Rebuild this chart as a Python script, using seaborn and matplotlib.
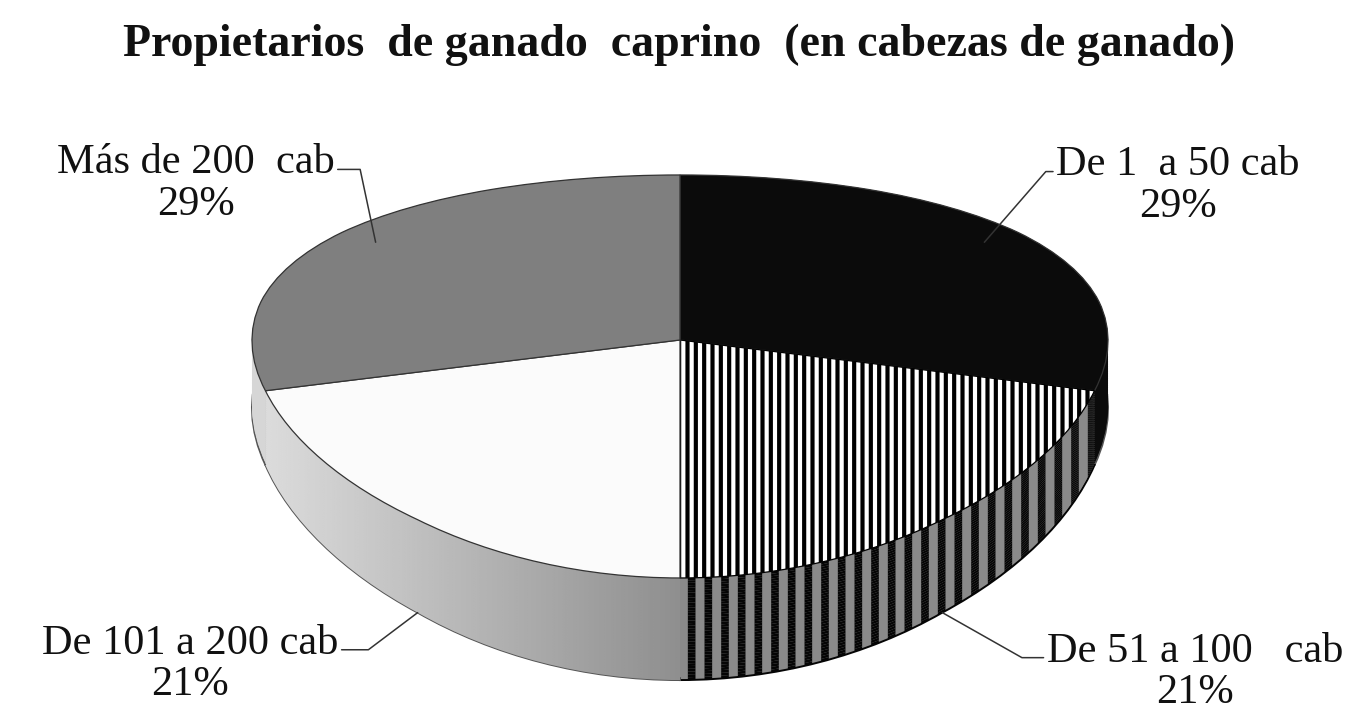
import numpy as np
import seaborn as sns
import matplotlib.pyplot as plt

# Datos del grafico
categorias = ["De 1  a 50 cab", "De 51 a 100   cab", "De 101 a 200 cab", "Más de 200  cab"]
porcentajes = [29, 21, 21, 29]
titulo = "Propietarios  de ganado  caprino  (en cabezas de ganado)"

# Estilo de las porciones (cara superior y pared lateral)
colores_sup = ["#0b0b0b", "#ffffff", "#fbfbfb", "#7f7f7f"]
colores_lado = ["#0b0b0b", "#8a8a8a", "#c2c2c2", "#d6d6d6"]
tramas_sup = [None, "||", None, None]
tramas_lado = [None, "|", None, None]

# Posicion de las etiquetas (fraccion de figura) y angulo de la linea guia
pos_etiquetas = [(0.8675, 0.741), (0.880, 0.064), (0.140, 0.075), (0.144, 0.744)]
angulo_guia = [49.0, 150.5, 37.0, 102.0]

sns.set_theme(style="white")
plt.rcParams["font.family"] = ["Liberation Serif", "DejaVu Serif"]
plt.rcParams["hatch.linewidth"] = 3.0

fig = plt.figure(figsize=(13.58, 7.18), dpi=100)
ax = fig.add_axes([0, 0, 1, 1])

# perspectiva: eje y comprimido hacia el fondo
b = 0.181
fwd = lambda y: y / (1 + b * y)
inv = lambda u: u / (1 - b * u)
prof = 0.326
n_capas = 40

# degradado horizontal para la pared de la porcion blanca
degradado = np.linspace(0.87, 0.56, 256).reshape(1, -1)

# Pared lateral: pies apilados hacia abajo
for i, t in enumerate(np.linspace(prof, 0.0, n_capas)):
    wedges, _ = ax.pie(porcentajes, startangle=90, counterclock=False,
                       center=(0, -t), colors=colores_lado,
                       wedgeprops=dict(linewidth=1.4 if i == 0 else 0,
                                       edgecolor="#555555", zorder=1))
    for w, h in zip(wedges, tramas_lado):
        if h:
            w.set_hatch(h)
            w.set_edgecolor("#050505")
            if hasattr(w, "set_hatch_linewidth"):
                w.set_hatch_linewidth(5.5)
    im = ax.imshow(degradado, extent=(-1, 0, -1 - t, -t), cmap="gray",
                   vmin=0, vmax=1, aspect="auto", zorder=1.5,
                   interpolation="bilinear")
    im.set_clip_path(wedges[2])

# Cara superior
wedges, _ = ax.pie(porcentajes, startangle=90, counterclock=False,
                   colors=colores_sup,
                   wedgeprops=dict(linewidth=0.9, edgecolor="#333333", zorder=2))
for w, h in zip(wedges, tramas_sup):
    if h:
        w.set_hatch(h)
        w.set_edgecolor("black")
        if hasattr(w, "set_hatch_linewidth"):
            w.set_hatch_linewidth(3.0)

# Etiquetas con lineas guia
p = np.array(porcentajes, dtype=float)
inicio = 90 - 3.6 * np.concatenate([[0], np.cumsum(p)[:-1]])
medio = np.radians(inicio - 1.8 * p)
for i, (cat, val) in enumerate(zip(categorias, porcentajes)):
    th = medio[i]
    if np.sin(th) < 0:
        xy = (np.cos(th), np.sin(th) - prof)
    else:
        xy = (0.9 * np.cos(th), 0.9 * np.sin(th))
    lado_der = pos_etiquetas[i][0] > 0.5
    ax.annotate(f"{cat}\n{val}%", xy=xy, xytext=pos_etiquetas[i],
                textcoords="figure fraction", ha="center", va="center",
                multialignment="center", fontsize=30.5, color="#111111",
                linespacing=1.1, zorder=5,
                arrowprops=dict(arrowstyle="-", color="#333333", lw=1.1,
                                shrinkA=0, shrinkB=0,
                                relpos=(0.0 if lado_der else 1.0, 0.68),
                                connectionstyle=f"angle,angleA=0,angleB={angulo_guia[i]},rad=0"))

fig.text(0.5, 1 - 45 / 718, titulo, ha="center", va="center",
         fontsize=33, fontweight="bold", color="#111111")

# Limites del eje en funcion del tamano del grafico
cx_px, cy_px, rx_px, k_px = 680, 340, 428, 194.9
ax.set_yscale("function", functions=(fwd, inv))
ax.set_aspect("auto")
ax.set_xlim(-cx_px / rx_px, (1358 - cx_px) / rx_px)
ax.set_ylim(inv(-(718 - cy_px) / k_px), inv(cy_px / k_px))
ax.axis("off")

fig.savefig("out.png", dpi=100)
